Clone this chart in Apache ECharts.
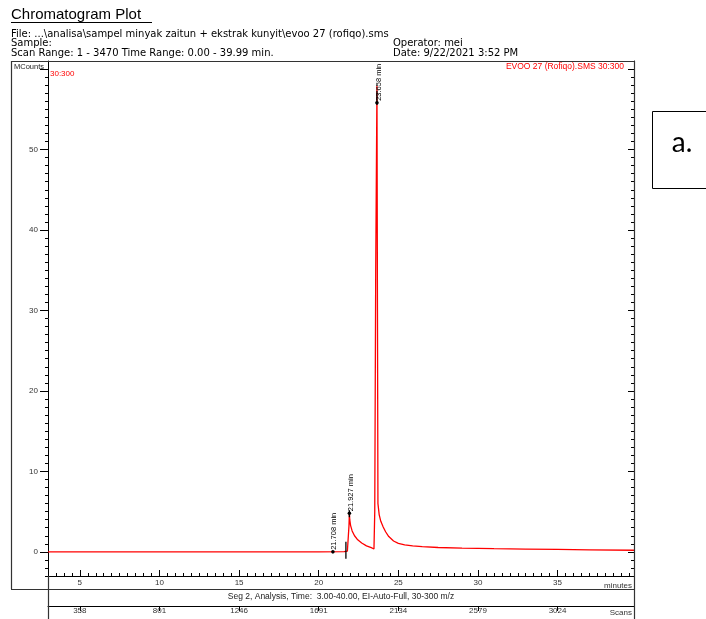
<!DOCTYPE html>
<html>
<head>
<meta charset="utf-8">
<script src="https://cdn.jsdelivr.net/npm/echarts@6/dist/echarts.min.js"></script>
<style>
  html, body { margin: 0; padding: 0; background: #fff; }
  #chart { width: 706px; height: 619px; }
</style>
</head>
<body>
<div id="chart"></div>
<script>
// Total ion chromatogram, 30:300 m/z, EVOO 27 sample (time in minutes, intensity in MCounts)
const times = [3.00, 10.00, 20.00, 21.60, 21.70, 21.80, 21.87, 21.90, 21.927, 21.95, 22.00, 22.10, 22.25, 22.45,
  22.70, 23.00, 23.30, 23.47, 23.52, 23.58, 23.658, 23.69, 23.72, 23.80, 23.90, 24.05, 24.20, 24.40, 24.70,
  25.00, 25.40, 25.90, 26.50, 27.50, 29.00, 31.00, 33.00, 35.00, 37.00, 39.80];
const counts = [0.00, 0.00, 0.00, 0.02, 0.05, 0.08, 0.30, 3.20, 4.80, 4.00, 3.30, 2.60, 2.00, 1.50,
  1.10, 0.75, 0.52, 0.35, 5.00, 35.0, 57.9, 30.0, 6.00, 4.60, 3.80, 3.10, 2.50, 1.90, 1.35,
  1.05, 0.88, 0.75, 0.64, 0.54, 0.46, 0.39, 0.34, 0.30, 0.25, 0.20];

// Identified peaks
const peakTimes = [21.708, 21.927, 23.658];
const peakCounts = [0.0, 4.8, 55.8];
const peakLabels = ['21.708 min', '21.927 min', '23.658 min'];

// Axis tick labels
const timeTicks = [5, 10, 15, 20, 25, 30, 35];
const scanTicks = [358, 801, 1246, 1691, 2134, 2579, 3024];
const countTicks = [0, 10, 20, 30, 40, 50];
const countMajorTicks = [0, 10, 20, 30, 40, 50, 60];

const FONT = '"Liberation Sans", Arial, sans-serif';
const WIDE = '"DejaVu Sans", sans-serif';

// Marker drawing layout per peak: label shift (px) and marker stem extent (px)
const markerLayout = [
  { dx: -13, up: 10, down: 7 },
  { dx: 0, up: 3, down: 4 },
  { dx: 0, up: 12, down: 2 }
];

const chart = echarts.init(document.getElementById('chart'), null, { renderer: 'canvas' });

const gridL = 48, gridR = 634, gridT = 61, gridB = 576;

const axisBase = {
  type: 'value', min: 3, max: 39.8, splitLine: { show: false }
};
const yBase = {
  type: 'value', min: -3, max: 61, splitLine: { show: false }
};

function txt(x, y, text, size, opts) {
  opts = opts || {};
  return {
    type: 'text', x: x, y: y, z: 100,
    style: {
      text: text, fill: opts.color || '#000',
      font: size + 'px ' + (opts.family || FONT),
      textAlign: opts.align || 'left', textVerticalAlign: 'middle'
    }
  };
}
function ln(x1, y1, x2, y2, color, w) {
  return {
    type: 'line', z: 100,
    shape: { x1: x1, y1: y1, x2: x2, y2: y2 },
    style: { stroke: color || '#333', lineWidth: w || 1 }
  };
}

const option = {
  animation: false,
  backgroundColor: '#fff',
  grid: { left: gridL, right: 706 - gridR, top: gridT, bottom: 619 - gridB, containLabel: false },
  xAxis: [
    Object.assign({}, axisBase, {
      position: 'bottom', interval: 0.5,
      axisLine: { show: true, onZero: false, lineStyle: { color: '#000', width: 1 } },
      axisTick: { show: true, inside: true, length: 3, lineStyle: { color: '#000' } },
      axisLabel: { show: false }
    }),
    Object.assign({}, axisBase, {
      position: 'bottom',
      axisLine: { show: false, onZero: false },
      axisTick: { show: true, inside: true, length: 6, customValues: timeTicks, lineStyle: { color: '#000' } },
      axisLabel: { show: true, customValues: timeTicks, fontSize: 8, fontFamily: FONT, color: '#333', margin: 3 }
    }),
    Object.assign({}, axisBase, {
      position: 'bottom', offset: 30,
      axisLine: { show: true, onZero: false, lineStyle: { color: '#000', width: 1 } },
      axisTick: { show: true, inside: false, length: 5, customValues: timeTicks, lineStyle: { color: '#000' } },
      axisLabel: {
        show: true, customValues: timeTicks, fontSize: 8, fontFamily: FONT, color: '#333', margin: 1,
        formatter: function (v) { const i = timeTicks.indexOf(v); return i >= 0 ? String(scanTicks[i]) : ''; }
      }
    })
  ],
  yAxis: [
    Object.assign({}, yBase, {
      position: 'left', interval: 1,
      axisLine: { show: true, onZero: false, lineStyle: { color: '#000', width: 1 } },
      axisTick: { show: true, inside: false, length: 3, lineStyle: { color: '#000' } },
      axisLabel: { show: false }
    }),
    Object.assign({}, yBase, {
      position: 'left',
      axisLine: { show: false, onZero: false },
      axisTick: { show: true, inside: false, length: 8, customValues: countMajorTicks, lineStyle: { color: '#000' } },
      axisLabel: { show: true, customValues: countTicks, fontSize: 8, fontFamily: FONT, color: '#333', margin: 10 }
    }),
    Object.assign({}, yBase, {
      position: 'right', interval: 1,
      axisLine: { show: true, onZero: false, lineStyle: { color: '#000', width: 1 } },
      axisTick: { show: true, inside: true, length: 3, lineStyle: { color: '#000' } },
      axisLabel: { show: false }
    }),
    Object.assign({}, yBase, {
      position: 'right',
      axisLine: { show: false, onZero: false },
      axisTick: { show: true, inside: true, length: 6, customValues: countMajorTicks, lineStyle: { color: '#000' } },
      axisLabel: { show: false }
    })
  ],
  series: [
    {
      type: 'line', xAxisIndex: 0, yAxisIndex: 0,
      data: times.map(function (t, i) { return [t, counts[i]]; }),
      showSymbol: false, symbol: 'none', smooth: false,
      lineStyle: { color: '#ff0000', width: 1.3 },
      z: 5
    },
    {
      type: 'custom', xAxisIndex: 0, yAxisIndex: 0, z: 10,
      data: peakTimes.map(function (t, i) { return [t, peakCounts[i], i]; }),
      renderItem: function (params, api) {
        const p = api.coord([api.value(0), api.value(1)]);
        const i = api.value(2);
        const L = markerLayout[i];
        return {
          type: 'group',
          children: [
            { type: 'line', shape: { x1: p[0], y1: p[1] - L.up, x2: p[0], y2: p[1] + L.down },
              style: { stroke: '#000', lineWidth: 1.3 } },
            { type: 'circle', shape: { cx: p[0] + L.dx, cy: p[1], r: 1.8 }, style: { fill: '#000' } },
            { type: 'text', x: p[0] + L.dx + 1.5, y: p[1] - 2, rotation: Math.PI / 2,
              style: { text: peakLabels[i], fill: '#000', font: '7.5px ' + FONT,
                textAlign: 'left', textVerticalAlign: 'middle', align: 'left', verticalAlign: 'middle' } }
          ]
        };
      }
    }
  ],
  graphic: {
    elements: [
      // header
      txt(11, 15, 'Chromatogram Plot', 15),
      ln(11, 22.5, 152, 22.5, '#000', 1),
      txt(11, 34, 'File: ...\\analisa\\sampel minyak zaitun + ekstrak kunyit\\evoo 27 (rofiqo).sms', 10, { family: WIDE }),
      txt(11, 43.5, 'Sample:', 10, { family: WIDE }),
      txt(11, 53.5, 'Scan Range: 1 - 3470 Time Range: 0.00 - 39.99 min.', 10, { family: WIDE }),
      txt(393, 43.5, 'Operator: mei', 10, { family: WIDE }),
      txt(393, 53.5, 'Date: 9/22/2021 3:52 PM', 10, { family: WIDE }),
      // frame
      ln(11, 61.5, 634, 61.5, '#333', 1.2),
      ln(11.5, 61, 11.5, 589, '#333', 1.2),
      ln(11, 589.5, 634, 589.5, '#333', 1.2),
      ln(48.5, 576, 48.5, 619, '#333', 1.2),
      ln(634.5, 61, 634.5, 619, '#333', 1.2),
      // plot captions
      txt(14, 66.5, 'MCounts', 7.5, { color: '#222' }),
      txt(50, 74, '30:300', 8, { color: '#ff0000' }),
      txt(624, 66.5, 'EVOO 27 (Rofiqo).SMS 30:300', 8.5, { color: '#ff0000', align: 'right' }),
      txt(632, 586, 'minutes', 8, { color: '#333', align: 'right' }),
      txt(341, 597, 'Seg 2, Analysis, Time:  3.00-40.00, EI-Auto-Full, 30-300 m/z', 8.5, { color: '#222', align: 'center' }),
      txt(632, 613, 'Scans', 8, { color: '#333', align: 'right' }),
      // panel tag
      { type: 'rect', z: 100, shape: { x: 652.5, y: 111.5, width: 70, height: 77 },
        style: { fill: '#fff', stroke: '#000', lineWidth: 1 } },
      txt(682, 143, 'a.', 28, { color: '#000', align: 'center', family: 'Lato, "Open Sans", sans-serif' })
    ]
  }
};

chart.setOption(option);
</script>
</body>
</html>
